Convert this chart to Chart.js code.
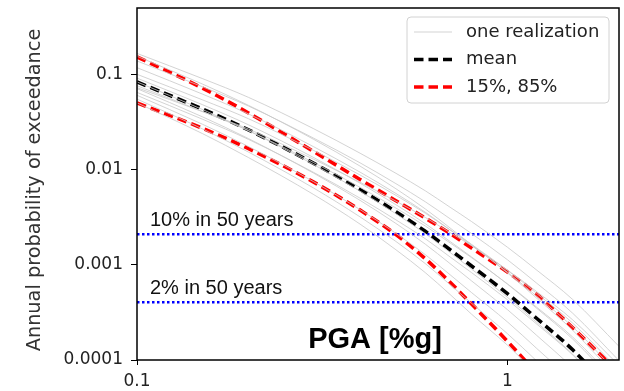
<!DOCTYPE html>
<html>
<head>
<meta charset="utf-8">
<script src="https://cdn.jsdelivr.net/npm/chart.js@4.4.0/dist/chart.umd.min.js"></script>
<style>
html,body{margin:0;padding:0;background:#fff;}
#wrap{width:624px;height:391px;}
</style>
</head>
<body>
<div id="wrap"><canvas id="hazard" width="624" height="391"></canvas></div>
<script>
// PGA values (x) shared by every curve
const pga = [0.1, 0.15, 0.2, 0.3, 0.4, 0.5, 0.6, 0.7, 0.8, 1.0, 1.2, 1.5, 2.0];

const meanCurve = [0.0836, 0.0434, 0.0262, 0.01164, 0.00618, 0.00361, 0.00225, 0.00144, 0.000973, 0.000498, 0.000273, 0.000128, 0.0000392];
const p85 = [0.153, 0.0723, 0.0394, 0.0155, 0.00789, 0.00472, 0.0031, 0.00213, 0.0015, 0.000841, 0.000488, 0.000218, 0.0000731];
const p15 = [0.0503, 0.0273, 0.0166, 0.0074, 0.00376, 0.00208, 0.00116, 0.000656, 0.000387, 0.000157, 0.0000716, 0.0000251, 0.00000594];

// individual realizations (grey)
const real1 = [0.1667, 0.0908, 0.0575, 0.0269, 0.0149, 0.00916, 0.006, 0.00403, 0.00285, 0.00153, 0.000879, 0.000432, 0.000139];
const real2 = [0.1387, 0.0745, 0.0466, 0.0214, 0.0118, 0.00713, 0.0046, 0.00305, 0.00213, 0.00113, 0.00064, 0.00031, 0.0000984];
const real3 = [0.118, 0.0624, 0.0385, 0.0174, 0.00942, 0.00562, 0.00357, 0.00233, 0.0016, 0.000836, 0.000467, 0.000223, 0.0000697];
const real4 = [0.1005, 0.0543, 0.0343, 0.0159, 0.00879, 0.00537, 0.00349, 0.00233, 0.00164, 0.000875, 0.0005, 0.000244, 0.0000782];
const real5 = [0.0916, 0.0483, 0.0296, 0.0134, 0.00721, 0.00428, 0.00271, 0.00176, 0.00121, 0.000627, 0.000349, 0.000166, 0.0000516];
const real6 = [0.0836, 0.043, 0.0257, 0.0113, 0.00594, 0.00344, 0.00213, 0.00135, 0.000902, 0.000456, 0.000248, 0.000115, 0.0000349];
const real7 = [0.0762, 0.041, 0.0257, 0.01186, 0.00652, 0.00395, 0.00256, 0.0017, 0.00119, 0.000631, 0.000358, 0.000174, 0.0000553];
const real8 = [0.0711, 0.036, 0.0212, 0.00918, 0.00476, 0.00272, 0.00165, 0.00103, 0.000678, 0.000338, 0.000181, 0.0000826, 0.0000247];
const real9 = [0.0649, 0.034, 0.0208, 0.00935, 0.00502, 0.00297, 0.00188, 0.00121, 0.000828, 0.000429, 0.000238, 0.000113, 0.0000349];
const real10 = [0.0605, 0.0301, 0.0175, 0.00746, 0.00381, 0.00214, 0.00128, 0.000787, 0.000511, 0.000251, 0.000132, 0.0000593, 0.0000175];
const real11 = [0.0552, 0.0269, 0.0153, 0.0064, 0.00319, 0.00176, 0.00103, 0.000619, 0.000394, 0.000189, 0.0000975, 0.000043, 0.0000124];
const real12 = [0.0504, 0.024, 0.0134, 0.00547, 0.00268, 0.00144, 0.000828, 0.000488, 0.000303, 0.000143, 0.0000721, 0.0000311, 0.00000877];
const real13 = [0.1556, 0.0796, 0.0474, 0.0208, 0.0109, 0.0063, 0.00387, 0.00244, 0.00163, 0.000822, 0.000445, 0.000205, 0.0000621];
const real14 = [0.0728, 0.0408, 0.0267, 0.01285, 0.00738, 0.00467, 0.00315, 0.00218, 0.00159, 0.000881, 0.000522, 0.000264, 0.0000877];
const realizations = [real1, real2, real3, real4, real5, real6, real7, real8, real9, real10, real11, real12, real13, real14];

const hazardLevels = [0.0021, 0.000404];
const hazardLabels = ['10% in 50 years', '2% in 50 years'];

const xTicks = [0.1, 1];
const xTickLabels = ['0.1', '1'];
const yTicks = [0.1, 0.01, 0.001, 0.0001];
const yTickLabels = ['0.1', '0.01', '0.001', '0.0001'];
const legendLabels = ['one realization', 'mean', '15%, 85%'];
const yTitle = 'Annual probability of exceedance';
const xTitle = 'PGA [%g]';

const toPts = arr => arr.map((v, i) => ({x: pga[i], y: v}));

const GREY = 'rgba(200,200,200,0.8)';
const DASH = [9.5, 5];

let datasets = realizations.map(r => ({
  data: toPts(r), borderColor: GREY, borderWidth: 1,
  pointRadius: 0, cubicInterpolationMode: 'monotone'
}));
datasets.push({data: toPts(meanCurve), borderColor: '#000', borderWidth: 3.6, borderDash: DASH,
  pointRadius: 0, cubicInterpolationMode: 'monotone'});
datasets.push({data: toPts(p15), borderColor: '#ff0000', borderWidth: 3.6, borderDash: DASH,
  pointRadius: 0, cubicInterpolationMode: 'monotone'});
datasets.push({data: toPts(p85), borderColor: '#ff0000', borderWidth: 3.6, borderDash: DASH,
  pointRadius: 0, cubicInterpolationMode: 'monotone'});
hazardLevels.forEach(lv => {
  datasets.push({data: [{x: pga[0], y: lv}, {x: pga[pga.length - 1], y: lv}],
    borderColor: '#0000ff', borderWidth: 2.5, borderDash: [2.5, 2.5], pointRadius: 0});
});

const decor = {
  id: 'decor',
  afterDatasetsDraw(chart) {
    const {ctx, chartArea: a, scales: {x, y}} = chart;
    ctx.save();
    // frame
    ctx.strokeStyle = '#000';
    ctx.lineWidth = 1.5;
    ctx.strokeRect(a.left, a.top, a.right - a.left, a.bottom - a.top);

    // y title
    ctx.save();
    ctx.translate(35, 190);
    ctx.rotate(-Math.PI / 2);
    ctx.font = '19.3px "DejaVu Sans", sans-serif';
    ctx.fillStyle = '#333';
    ctx.textAlign = 'center';
    ctx.textBaseline = 'middle';
    ctx.fillText(yTitle, 0, 0);
    ctx.restore();

    // hazard level labels
    ctx.fillStyle = '#111';
    ctx.font = '20px "Liberation Sans", Arial, sans-serif';
    ctx.textAlign = 'left';
    ctx.textBaseline = 'alphabetic';
    hazardLevels.forEach((lv, i) => {
      ctx.fillText(hazardLabels[i], a.left + 13, y.getPixelForValue(lv) - 8.5);
    });

    // x title inside the plot
    ctx.font = 'bold 29px "Liberation Sans", Arial, sans-serif';
    ctx.textAlign = 'center';
    ctx.fillStyle = '#000';
    ctx.fillText(xTitle, 375, a.bottom - 12);

    // legend
    const lx = 407, ly = 17, lw = 202, lh = 86;
    ctx.beginPath();
    ctx.roundRect(lx, ly, lw, lh, 4);
    ctx.fillStyle = 'rgba(255,255,255,0.85)';
    ctx.fill();
    ctx.strokeStyle = '#d2d2d2';
    ctx.lineWidth = 1;
    ctx.stroke();
    const rows = [
      {c: GREY, w: 1, d: []},
      {c: '#000', w: 3.6, d: DASH},
      {c: '#ff0000', w: 3.6, d: DASH}
    ];
    ctx.font = '18px "DejaVu Sans", sans-serif';
    ctx.textAlign = 'left';
    ctx.textBaseline = 'middle';
    rows.forEach((r, i) => {
      const yy = 32 + i * 27.5;
      ctx.beginPath();
      ctx.setLineDash(r.d);
      ctx.strokeStyle = r.c;
      ctx.lineWidth = r.w;
      ctx.moveTo(414, yy);
      ctx.lineTo(452, yy);
      ctx.stroke();
      ctx.setLineDash([]);
      ctx.fillStyle = '#222';
      ctx.fillText(legendLabels[i], 466, yy);
    });
    ctx.restore();
  }
};

new Chart(document.getElementById('hazard'), {
  type: 'line',
  data: {datasets: datasets},
  options: {
    responsive: false,
    animation: false,
    devicePixelRatio: 1,
    layout: {padding: {top: 8, right: 5, left: 0, bottom: 0}},
    plugins: {legend: {display: false}, tooltip: {enabled: false}},
    scales: {
      x: {
        type: 'logarithmic', min: 0.1, max: 2.0,
        afterBuildTicks: s => { s.ticks = xTicks.map(v => ({value: v})); },
        afterFit: s => { s.height = 31; s.paddingLeft = 0; s.paddingRight = 0; },
        ticks: {
          autoSkip: false, maxRotation: 0, padding: 6,
          color: '#222', font: {family: 'DejaVu Sans', size: 17},
          callback: (v) => xTickLabels[xTicks.indexOf(v)] || ''
        },
        grid: {drawOnChartArea: false, drawTicks: true, tickLength: 5, color: '#000'},
        border: {display: false}
      },
      y: {
        type: 'logarithmic', min: 0.0001, max: 0.5,
        afterBuildTicks: s => { s.ticks = yTicks.map(v => ({value: v})); },
        afterFit: s => { s.width = 137; s.paddingTop = 0; s.paddingBottom = 0; },
        ticks: {
          autoSkip: false, padding: 8,
          color: '#222', font: {family: 'DejaVu Sans', size: 17},
          callback: (v) => yTickLabels[yTicks.indexOf(v)] || ''
        },
        grid: {drawOnChartArea: false, drawTicks: true, tickLength: 6, color: '#000'},
        border: {display: false}
      }
    }
  },
  plugins: [decor]
});
</script>
</body>
</html>
